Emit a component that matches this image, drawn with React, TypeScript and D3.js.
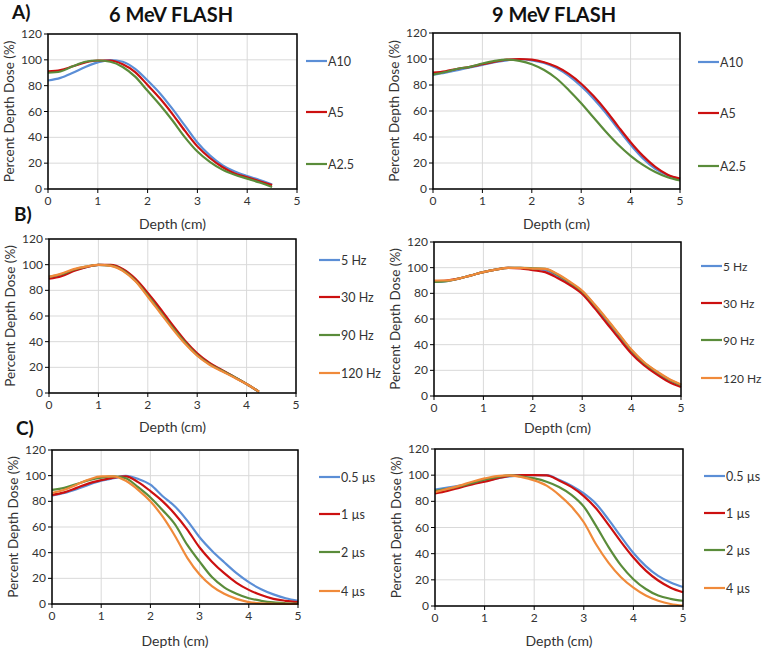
import React from "react";
import * as d3 from "d3";

const FONT = "Lato, 'Open Sans', sans-serif";

const COLORS = ["#5B8ED6", "#CC1010", "#5A8C3A", "#F08A3A"];

// depth grids (cm)
const DEPTH_45 = [0, 0.25, 0.5, 0.75, 1, 1.25, 1.5, 1.75, 2, 2.25, 2.5, 2.75, 3, 3.25, 3.5, 3.75, 4, 4.25, 4.5];
const DEPTH_425 = [0, 0.25, 0.5, 0.75, 1, 1.25, 1.5, 1.75, 2, 2.25, 2.5, 2.75, 3, 3.25, 3.5, 3.75, 4, 4.25];
const DEPTH_5 = [0, 0.25, 0.5, 0.75, 1, 1.25, 1.5, 1.75, 2, 2.25, 2.5, 2.75, 3, 3.25, 3.5, 3.75, 4, 4.25, 4.5, 4.75, 5];

// A) aperture, 6 MeV
const A_LABELS = ["A10", "A5", "A2.5"];
const A6_A10 = [84, 86, 90, 94.5, 98, 99.8, 98.5, 93, 84, 74, 62, 49, 36, 26, 18.5, 13.5, 10, 7, 3.5];
const A6_A5 = [91, 92, 95, 98, 99.5, 99.5, 96.5, 90.5, 80.5, 70, 58, 45, 33, 24, 17, 12, 9, 6, 3];
const A6_A25 = [90, 91, 95, 98.5, 99.5, 98.5, 94.5, 87, 76, 65, 53, 40, 29, 21, 15, 11, 8, 5, 1.5];
// A) aperture, 9 MeV
const A9_A10 = [88, 89.5, 91.5, 93.5, 95.5, 97.5, 99, 99.8, 99, 97, 93, 87, 79, 69.5, 58.5, 46, 34, 23.5, 15.5, 10.5, 7.5];
const A9_A5 = [89.5, 90.5, 92.5, 94, 96, 98, 99.5, 100, 99.5, 97.5, 94, 88.5, 81, 71.5, 60.5, 48, 36, 25.5, 17, 11, 8];
const A9_A25 = [88, 90, 92.5, 94, 96.5, 98.5, 99.5, 98.5, 96, 91.5, 85, 76, 66, 55, 44, 34, 25.5, 18.5, 13, 9, 6.5];

// B) repetition rate
const B_LABELS = ["5 Hz", "30 Hz", "90 Hz", "120 Hz"];
const B6_5 = [90, 92, 95.5, 98, 99.8, 99.5, 96, 88, 76.5, 64.5, 52, 40, 30, 23, 17.5, 12.5, 7, 1];
const B6_30 = [89, 91, 95, 98, 99.8, 99.8, 96.5, 89, 78, 66, 53, 41, 31, 23.5, 18, 12.5, 7, 1];
const B6_90 = [90.5, 92.5, 96, 98.5, 99.8, 99.3, 95.5, 87.5, 76, 63.5, 51, 39.5, 29.5, 22.5, 17.5, 12.5, 7, 1];
const B6_120 = [90.5, 93, 96.5, 98.5, 99.8, 99, 95, 87, 75, 62.5, 50, 38.5, 29, 22, 17, 12, 7, 1];
const B9_5 = [89, 89.5, 91.5, 94, 96.5, 98.5, 99.8, 99.8, 99, 98, 93.5, 87.5, 80.5, 70, 58, 46, 34.5, 25, 18, 12, 8];
const B9_30 = [89.5, 90, 91.5, 94, 96.5, 98.5, 99.8, 99.5, 98, 96.5, 92, 86.5, 79.5, 68.5, 56.5, 44.5, 33, 24, 17, 11, 7];
const B9_90 = [89, 89.5, 91.5, 94, 96.5, 98.5, 99.8, 99.8, 99.5, 99, 94.5, 88.5, 81.5, 71, 59.5, 47.5, 35.5, 26, 19, 13, 8.5];
const B9_120 = [90, 90, 91.5, 94, 96.5, 98.5, 99.8, 99.8, 99.3, 99, 95, 89, 82, 71.5, 60, 48, 36, 26.5, 19.5, 13.5, 9];

// C) pulse width
const C_LABELS = ["0.5 \u00b5s", "1 \u00b5s", "2 \u00b5s", "4 \u00b5s"];
const C6_05 = [84.5, 86.5, 89.5, 93, 96, 98, 99.8, 97.5, 93, 84, 76, 65, 52, 41.5, 32.5, 24, 17, 11.5, 7.5, 4.5, 2.5];
const C6_1 = [85, 87, 90.5, 94, 96.5, 98.5, 99.5, 95, 88, 80, 70, 58, 44, 33, 24, 16.5, 11, 7, 4, 2.5, 1.5];
const C6_2 = [89, 90.5, 93.5, 96.5, 98.5, 99.5, 98, 91, 83, 73, 62, 46, 33, 21, 13, 8, 4.5, 2.5, 1.2, 0.6, 0.3];
const C6_4 = [86.5, 89, 93, 97, 99.5, 99.5, 96, 89, 80, 68, 53, 36, 23, 14, 8, 4, 1.5, 0.5, 0.2, 0.1, 0];
const C9_05 = [89, 90.5, 92, 93.5, 95.5, 97.5, 99, 99.8, 100, 100, 96.5, 92, 86, 78, 66, 53, 40.5, 30.5, 23, 18, 14.5];
const C9_1 = [86, 88, 90.5, 93, 95, 97.5, 99.5, 100, 100, 99.8, 96, 91, 84, 74.5, 62, 49, 37, 27, 19.5, 14, 10.5];
const C9_2 = [88, 89.5, 91.5, 94, 96.5, 98.5, 99.8, 99, 97.5, 95, 91, 85, 76, 61, 45, 31, 20.5, 13, 8, 5.5, 4];
const C9_4 = [87, 89.5, 92, 95, 97.5, 99.3, 99.8, 98.5, 96, 92, 85, 76, 64, 47, 33, 22, 14, 8, 4, 1.5, 0.3];

const X_TICKS = [0, 1, 2, 3, 4, 5];
const Y_TICKS = [0, 20, 40, 60, 80, 100, 120];

type Box = { x0: number; x1: number; y0: number; y1: number };

function Panel({ box, depth, series, labels, legendX, legendY, titleY, legendSize = 12.5 }: {
  box: Box; depth: number[]; series: number[][]; labels: string[];
  legendX: number; legendY: number[]; titleY: number; legendSize?: number;
}) {
  const x = d3.scaleLinear().domain([0, 5]).range([box.x0, box.x1]);
  const y = d3.scaleLinear().domain([0, 120]).range([box.y1, box.y0]);
  const line = d3.line<number>()
    .x((_, i) => x(depth[i]))
    .y(d => y(d))
    .curve(d3.curveMonotoneX);
  const midX = (box.x0 + box.x1) / 2;
  const midY = (box.y0 + box.y1) / 2;
  return (
    <g>
      {X_TICKS.map(t => (
        <line key={"gx" + t} x1={x(t)} x2={x(t)} y1={box.y0} y2={box.y1} stroke="#D9D9D9" strokeWidth={1} />
      ))}
      {Y_TICKS.map(t => (
        <line key={"gy" + t} x1={box.x0} x2={box.x1} y1={y(t)} y2={y(t)} stroke="#D9D9D9" strokeWidth={1} />
      ))}
      {series.map((s, i) => (
        <path key={"s" + i} d={line(s) || ""} fill="none" stroke={COLORS[i]} strokeWidth={2.2} />
      ))}
      <rect x={box.x0} y={box.y0} width={box.x1 - box.x0} height={box.y1 - box.y0} fill="none" stroke="#000" strokeWidth={1.5} />
      {X_TICKS.map(t => (
        <g key={"tx" + t}>
          <line x1={x(t)} x2={x(t)} y1={box.y1} y2={box.y1 + 4} stroke="#000" />
          <text x={x(t)} y={box.y1 + 16} textAnchor="middle" fontSize={12} fill="#333">{t}</text>
        </g>
      ))}
      {Y_TICKS.map(t => (
        <g key={"ty" + t}>
          <line x1={box.x0 - 4} x2={box.x0} y1={y(t)} y2={y(t)} stroke="#000" />
          <text x={box.x0 - 6} y={y(t) + 4} textAnchor="end" fontSize={12} fill="#333">{t}</text>
        </g>
      ))}
      <text x={midX} y={titleY} textAnchor="middle" fontSize={14} fill="#333">Depth (cm)</text>
      <text transform={`translate(${box.x0 - 34},${midY}) rotate(-90)`} textAnchor="middle" fontSize={13.5} fill="#333">
        Percent Depth Dose (%)
      </text>
      {labels.map((l, i) => (
        <g key={"lg" + i}>
          <line x1={legendX} x2={legendX + 21} y1={legendY[i]} y2={legendY[i]} stroke={COLORS[i]} strokeWidth={2.2} />
          <text x={legendX + 22} y={legendY[i] + 4.5} fontSize={legendSize} fill="#333">{l}</text>
        </g>
      ))}
    </g>
  );
}

export default function App() {
  return (
    <svg width={762} height={650} style={{ position: "absolute", left: 0, top: 0, fontFamily: FONT }}>
      <rect width={762} height={650} fill="#fff" />
      <text x={12} y={19} fontSize={19} fontWeight="bold" fill="#111">A)</text>
      <text x={14} y={221} fontSize={19} fontWeight="bold" fill="#111">B)</text>
      <text x={16} y={435} fontSize={19} fontWeight="bold" fill="#111">C)</text>
      <text x={171} y={22} textAnchor="middle" fontSize={20} fontWeight="bold" fill="#111">6 MeV FLASH</text>
      <text x={554} y={22} textAnchor="middle" fontSize={20} fontWeight="bold" fill="#111">9 MeV FLASH</text>

      <Panel box={{ x0: 48, x1: 297, y0: 34, y1: 189 }} depth={DEPTH_45} series={[A6_A10, A6_A5, A6_A25]}
        labels={A_LABELS} legendX={306} legendY={[61, 112, 164]} titleY={229} />
      <Panel box={{ x0: 433, x1: 680, y0: 33, y1: 189 }} depth={DEPTH_5} series={[A9_A10, A9_A5, A9_A25]}
        labels={A_LABELS} legendX={698} legendY={[62, 113, 166]} titleY={229} />
      <Panel box={{ x0: 49, x1: 296, y0: 239, y1: 393 }} depth={DEPTH_425} series={[B6_5, B6_30, B6_90, B6_120]}
        labels={B_LABELS} legendX={319} legendY={[260, 297, 335, 373]} titleY={432} />
      <Panel box={{ x0: 434, x1: 681, y0: 242, y1: 396 }} depth={DEPTH_5} series={[B9_5, B9_30, B9_90, B9_120]}
        labels={B_LABELS} legendX={701} legendY={[266, 303, 340, 378]} titleY={433} legendSize={12} />
      <Panel box={{ x0: 52, x1: 298, y0: 450, y1: 604 }} depth={DEPTH_5} series={[C6_05, C6_1, C6_2, C6_4]}
        labels={C_LABELS} legendX={319} legendY={[477, 514, 552, 591]} titleY={646} />
      <Panel box={{ x0: 435, x1: 683, y0: 449, y1: 606 }} depth={DEPTH_5} series={[C9_05, C9_1, C9_2, C9_4]}
        labels={C_LABELS} legendX={704} legendY={[476, 513, 550, 588]} titleY={646} />
    </svg>
  );
}
